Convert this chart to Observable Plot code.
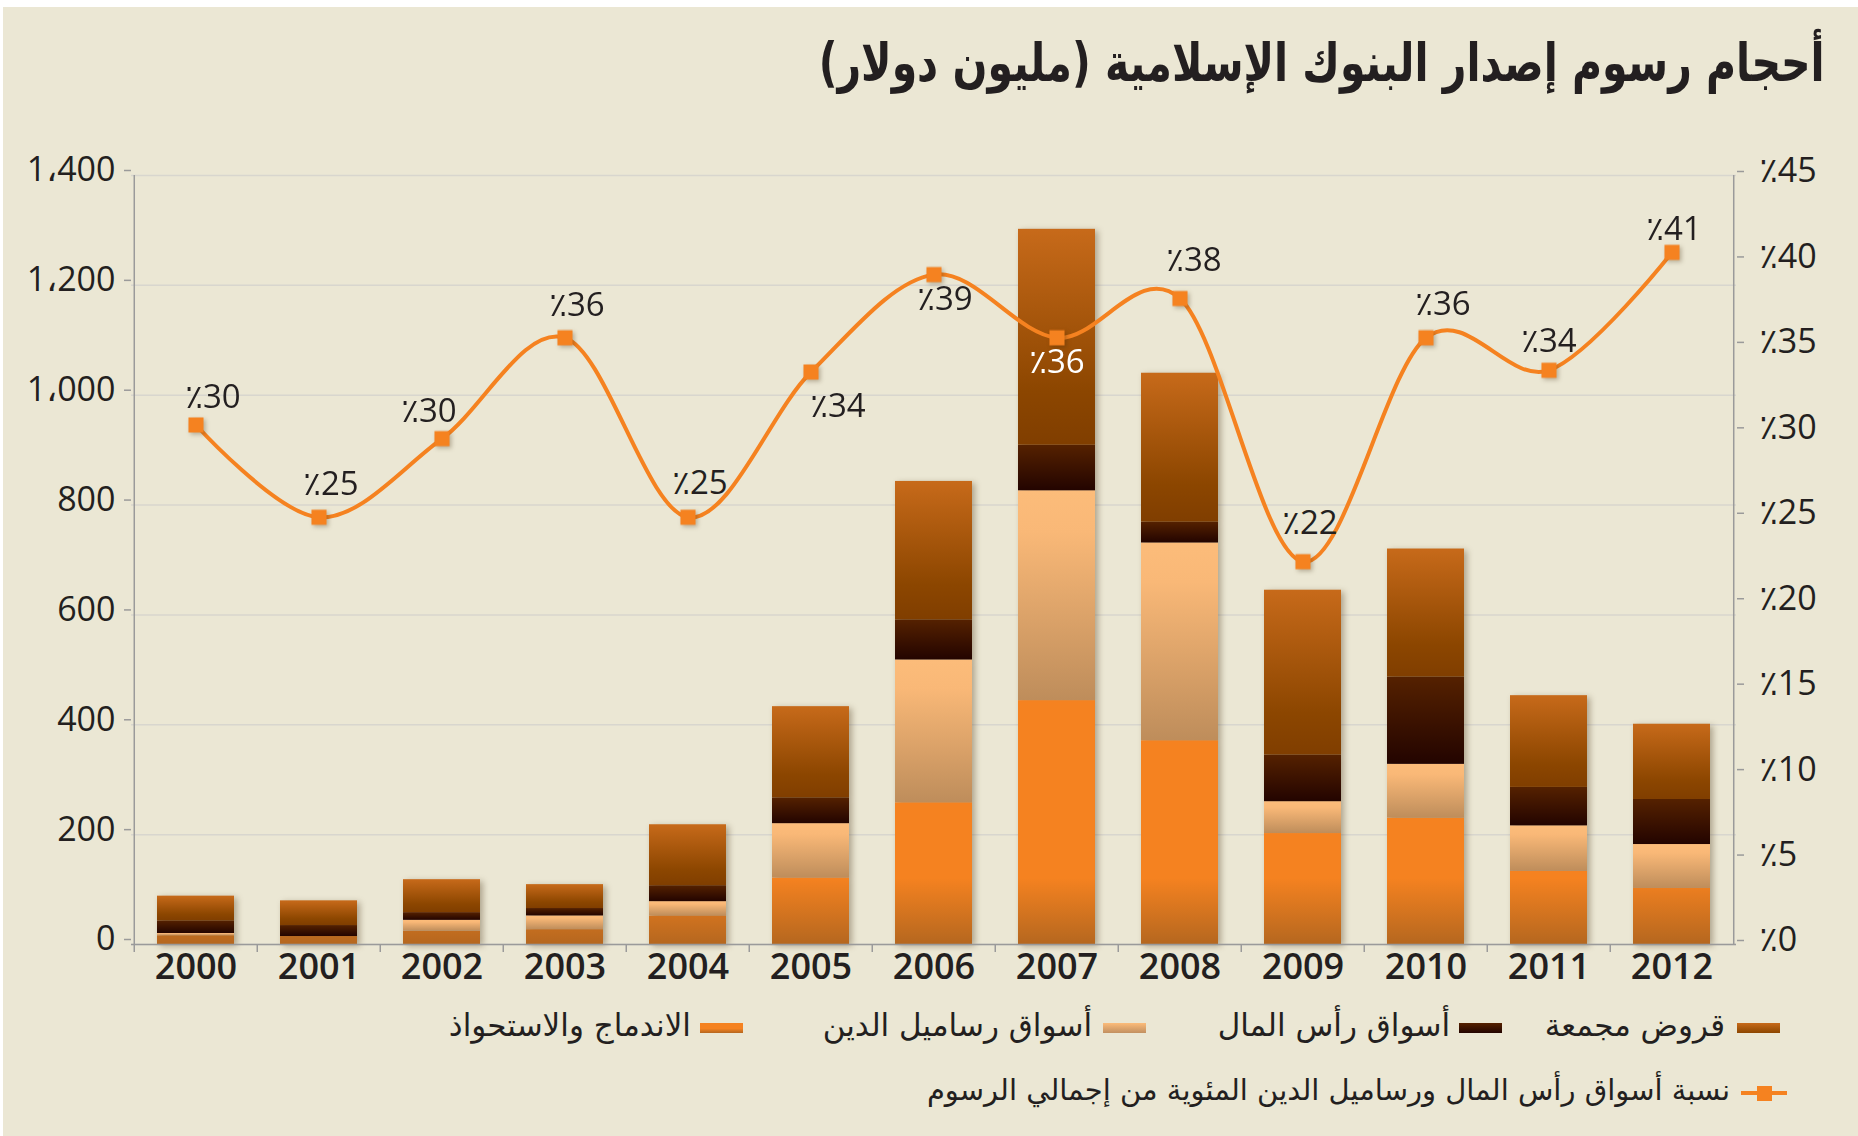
<!DOCTYPE html>
<html>
<head>
<meta charset="utf-8">
<script src="https://cdn.jsdelivr.net/npm/d3@7"></script>
<script src="https://cdn.jsdelivr.net/npm/@observablehq/plot@0.6"></script>
<style>
  html, body { margin: 0; padding: 0; background: #ffffff; width: 1858px; height: 1136px; overflow: hidden; }
  #panel { position: absolute; left: 3px; top: 7px; right: 0; bottom: 0; background: #EBE7D4; }
  #chart { position: absolute; left: 0; top: 0; }
  #title { position: absolute; right: 33px; top: 36px; direction: rtl; white-space: nowrap;
           font-family: "DejaVu Sans Condensed", "DejaVu Sans", sans-serif; font-weight: bold;
           font-size: 53px; color: #231F20; line-height: 1; transform: scaleX(0.86); transform-origin: right center; }
  .leg { position: absolute; direction: rtl; white-space: nowrap; font-family: "DejaVu Sans", sans-serif;
         font-size: 31px; color: #231F20; line-height: 1; }
  .sw { position: absolute; height: 10px; width: 43px; }
</style>
</head>
<body>
<div id="panel"></div>
<div id="chart"></div>
<div id="title"></div>
<div id="legend"></div>
<script>
// ---------- data ----------
const years = ["2000","2001","2002","2003","2004","2005","2006","2007","2008","2009","2010","2011","2012"];
const seriesNames = ["الاندماج والاستحواذ", "أسواق رساميل الدين", "أسواق رأس المال", "قروض مجمعة"];
const mergersAcquisitions = [16, 14.5, 24, 27, 52, 121, 258, 444, 371, 202, 230, 133, 102];
const debtCapitalMarkets  = [4, 0, 20, 25, 26, 99, 260, 382, 360, 58, 98, 83, 80];
const equityCapitalMarkets = [23, 20, 14, 13.5, 29, 47, 73, 83, 38, 85, 159, 70, 82];
const syndicatedLoans     = [45, 45, 60, 43.5, 111, 166, 252, 393, 271, 300, 233, 167, 137];
const capitalMarketsShare = [30.4, 25.0, 29.6, 35.5, 25.0, 33.5, 39.2, 35.5, 37.8, 22.4, 35.5, 33.6, 40.5];
const shareLabels = ["٪30","٪25","٪30","٪36","٪25","٪34","٪39","٪36","٪38","٪22","٪36","٪34","٪41"];
const lineLegend = "نسبة أسواق رأس المال ورساميل الدين المئوية من إجمالي الرسوم";
const leftTicks = [0, 200, 400, 600, 800, 1000, 1200, 1400];
const rightTicks = [0, 5, 10, 15, 20, 25, 30, 35, 40, 45];
const titleText = "أحجام رسوم إصدار البنوك الإسلامية (مليون دولار)";

// ---------- layout / style (not data) ----------
const W = 1858, H = 1000, mL = 131, mR = 122, mT = 175, mB = 56;
const step = (W - mL - mR) / years.length;
const labelDx = [17, 12, -13, 12, 12, 27, 11, 0, 14, 7, 17, 0, 2];
const labelDy = [-28, -33, -27, -32, -34, 34, 25, 25, -38, -38, -33, -29, -23];
const gradIds = ["g-ma", "g-dcm", "g-ecm", "g-loans"];
const leftMax = 1400, rightMax = 45;
const toLeft = p => p * leftMax / rightMax;

document.getElementById("title").textContent = titleText;

const seriesValues = [mergersAcquisitions, debtCapitalMarkets, equityCapitalMarkets, syndicatedLoans];
const rows = years.flatMap((yr, i) => seriesValues.map((vals, s) => ({year: yr, s, value: vals[i]})));
const linePts = years.map((yr, i) => ({year: yr, i, v: toLeft(capitalMarketsShare[i])}));

const numFont = "'Open Sans', 'DejaVu Sans', sans-serif";
const fmtLeft = d => d3.format(",")(d).replace(",", "،");

function defsMark(index, scales) {
  const y0 = scales && scales.y ? scales.y(0) : 944;
  const defs = d3.create("svg:defs");
  const lg = (id, stops, attrs = {}) => {
    const g = defs.append("linearGradient").attr("id", id).attr("x1", 0).attr("y1", 0).attr("x2", 0).attr("y2", 1);
    for (const [k, v] of Object.entries(attrs)) g.attr(k, v);
    for (const [o, c] of stops) g.append("stop").attr("offset", o).attr("stop-color", c);
  };
  lg("g-ma", [[0, "#F58220"], [0.45, "#F58220"], [1, "#B5671F"]],
     {gradientUnits: "userSpaceOnUse", x1: 0, x2: 0, y1: y0 - 120, y2: y0});
  lg("g-dcm", [[0, "#FCBC7A"], [0.2, "#F9B877"], [1, "#BE8D5B"]]);
  lg("g-ecm", [[0, "#552100"], [1, "#230400"]]);
  lg("g-loans", [[0, "#C76A1A"], [0.75, "#8C4600"], [1, "#803E00"]]);
  return defs.node();
}

const marks = [
  defsMark,
  Plot.gridY(leftTicks, {stroke: "#D8D6CE", strokeOpacity: 1, strokeWidth: 1.5}),
  Plot.barY(rows, {x: "year", y: "value", fill: d => `url(#${gradIds[d.s]})`}),
  Plot.ruleY([0], {stroke: "#9A9A9A", strokeWidth: 1.5}),
  Plot.ruleX([years[0]], {x: d => d, y1: 0, y2: leftMax, dx: -step / 2, stroke: "#9A9A9A", strokeWidth: 1.5}),
  Plot.ruleX([years[years.length - 1]], {x: d => d, y1: 0, y2: leftMax, dx: step / 2, stroke: "#9A9A9A", strokeWidth: 1.5}),
  Plot.axisX({tickSize: 8, tickFormat: () => "", dx: -step / 2, stroke: "#9A9A9A", strokeWidth: 1.5, label: null}),
  Plot.axisX({tickSize: 0, tickPadding: 9, fontSize: 36, fontWeight: 600, fill: "#231F20", label: null, fontFamily: numFont}),
  Plot.axisY({ticks: leftTicks, tickFormat: fmtLeft, tickSize: 7, tickPadding: 9, fontSize: 34, dy: -5,
              stroke: "#9A9A9A", strokeWidth: 1.5, fill: "#231F20", label: null, fontFamily: numFont}),
  Plot.axisY({anchor: "right", ticks: rightTicks.map(toLeft), tickFormat: v => "٪" + Math.round(v * rightMax / leftMax),
              tickSize: 7, tickPadding: 16, fontSize: 34, dy: -4, stroke: "#9A9A9A", strokeWidth: 1.5,
              fill: "#231F20", label: null, fontFamily: numFont}),
  Plot.line(linePts, {x: "year", y: "v", curve: "cardinal", stroke: "#F58220", strokeWidth: 4}),
  Plot.dot(linePts, {x: "year", y: "v", symbol: "square", r: 8.5, fill: "#F58220", stroke: "none"}),
  ...linePts.map((p, i) => Plot.text([p], {x: "year", y: "v", text: () => shareLabels[i],
      dx: labelDx[i], dy: labelDy[i], fontSize: 33, fontFamily: numFont,
      fill: i === 7 ? "#ffffff" : "#231F20"}))
];

const chart = Plot.plot({
  width: W, height: H, marginLeft: mL, marginRight: mR, marginTop: mT, marginBottom: mB,
  style: {background: "transparent", overflow: "visible"},
  x: {domain: years, paddingInner: 0.375, paddingOuter: 0.1875},
  y: {domain: [0, leftMax]},
  color: {type: "identity"},
  marks
});
document.getElementById("chart").appendChild(chart);

const bars = chart.querySelector('g[aria-label="bar"]');
if (bars) bars.style.filter = "drop-shadow(3px 2px 3px rgba(60,40,10,0.35))";
const dots = chart.querySelector('g[aria-label="dot"]');
if (dots) dots.style.filter = "drop-shadow(2px 2px 2px rgba(60,40,10,0.3))";

// ---------- legend ----------
const legend = document.getElementById("legend");
const swatchBg = [
  "linear-gradient(#F58220 0%, #F58220 55%, #B5671F 100%)",
  "linear-gradient(#FCBC7A, #C29060)",
  "linear-gradient(#552100, #230400)",
  "linear-gradient(#C76A1A, #8C4600)"
];
const swatchLeft = [700, 1103, 1459, 1737];
const textRight = [691, 1092, 1450, 1725];
seriesNames.forEach((name, s) => {
  const sw = document.createElement("div");
  sw.className = "sw";
  sw.style.left = swatchLeft[s] + "px";
  sw.style.top = "1023px";
  sw.style.background = swatchBg[s];
  legend.appendChild(sw);
  const t = document.createElement("div");
  t.className = "leg";
  t.textContent = name;
  t.style.right = (W - textRight[s]) + "px";
  t.style.top = "1010px";
  legend.appendChild(t);
});
// line legend
const ll = document.createElement("div");
ll.style.cssText = "position:absolute;left:1741px;top:1091px;width:46px;height:4px;background:#F58220";
legend.appendChild(ll);
const lm = document.createElement("div");
lm.style.cssText = "position:absolute;left:1757px;top:1086px;width:15px;height:15px;background:#F58220";
legend.appendChild(lm);
const lt = document.createElement("div");
lt.className = "leg";
lt.textContent = lineLegend;
lt.style.fontSize = "29px";
lt.style.right = (W - 1730) + "px";
lt.style.top = "1076px";
legend.appendChild(lt);
</script>
</body>
</html>
